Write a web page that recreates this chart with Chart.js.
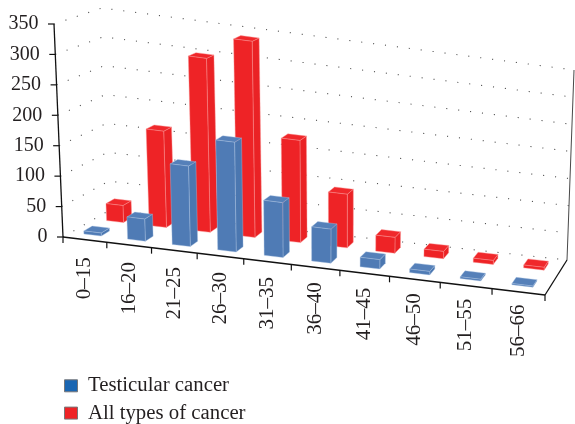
<!DOCTYPE html>
<html><head><meta charset="utf-8">
<style>html,body{margin:0;padding:0;background:#fff;overflow:hidden}canvas{display:block}</style>
<script src="https://cdn.jsdelivr.net/npm/chart.js@4"></script>
</head><body><canvas id="c" width="575" height="424"></canvas>
<script>
const categories = ['0–15','16–20','21–25','26–30','31–35','36–40','41–45','46–50','51–55','56–66'];
const testicular = [5,37,135,185,93,58,16,6,3,2];
const allTypes = [29,165,300,340,178,94,28,13,7,5];
const yTicks = [0,50,100,150,200,250,300,350];

// corners of the drawn box: C[v][w][u]
const C=[[[[63,237],[545,295]],[[110,210],[567,260]]],
         [[[54,24],[553,92]],[[102,8],[574,70]]]];
const alpha=0.9;
function P(u,v,w){
  const a=alpha*u/(1+u*(alpha-1));
  const out=[0,0];
  for(let k=0;k<2;k++){
    const l=(p,q,t)=>p+(q-p)*t;
    const bot=l(l(C[0][0][0][k],C[0][0][1][k],a),l(C[0][1][0][k],C[0][1][1][k],a),w);
    const top=l(l(C[1][0][0][k],C[1][0][1][k],a),l(C[1][1][0][k],C[1][1][1][k],a),w);
    out[k]=l(bot,top,v);
  }
  return out;
}
const FONT='"Liberation Serif", serif';
const depth=[[0.17,0.35],[0.66,0.84]];
const faces=[{front:'#4f7bb5',side:'#4b77b0',top:'#5580b9',edge:'rgba(170,195,225,0.55)'},
             {front:'#ee2326',side:'#ea2225',top:'#f0282b',edge:'rgba(250,150,150,0.6)'}];
function poly(ctx,pts,fill,edge){
  ctx.beginPath();pts.forEach((p,i)=>i?ctx.lineTo(p[0],p[1]):ctx.moveTo(p[0],p[1]));ctx.closePath();
  ctx.fillStyle=fill;ctx.fill();
  if(edge){ctx.strokeStyle=edge;ctx.lineWidth=0.7;ctx.stroke();}
}
function line(ctx,a,b){ctx.beginPath();ctx.moveTo(a[0],a[1]);ctx.lineTo(b[0],b[1]);ctx.stroke();}
const box3d={
  id:'box3d',
  beforeDatasetsDraw(chart){
    const ctx=chart.ctx,A=chart.chartArea,sx=chart.scales.x,sy=chart.scales.y;
    const N=categories.length;
    const nu=p=>(p-A.left)/(A.right-A.left), nv=p=>(A.bottom-p)/(A.bottom-A.top);
    ctx.save();
    ctx.strokeStyle='#555';ctx.lineWidth=1.1;ctx.setLineDash([1.1,10.9]);
    sy.ticks.forEach(t=>{
      const v=nv(sy.getPixelForValue(t.value));
      ctx.beginPath();
      let a=P(0,v,0),b=P(0,v,1),c=P(1,v,1);
      ctx.moveTo(a[0],a[1]);ctx.lineTo(b[0],b[1]);ctx.lineTo(c[0],c[1]);ctx.stroke();
    });
    ctx.setLineDash([]);
    [1,0].forEach(di=>{
      const meta=chart.getDatasetMeta(di),f=faces[di],[w0,w1]=depth[di];
      meta.data.forEach(el=>{
        const u0=nu(el.x-el.width/2),u1=nu(el.x+el.width/2),v0=nv(el.base),v1=nv(el.y);
        poly(ctx,[P(u1,v0,w0),P(u1,v0,w1),P(u1,v1,w1),P(u1,v1,w0)],f.side,f.edge);
        poly(ctx,[P(u0,v1,w0),P(u1,v1,w0),P(u1,v1,w1),P(u0,v1,w1)],f.top,f.edge);
        poly(ctx,[P(u0,v0,w0),P(u1,v0,w0),P(u1,v1,w0),P(u0,v1,w0)],f.front,f.edge);
      });
    });
    ctx.strokeStyle='#111';ctx.lineWidth=1.3;
    line(ctx,P(0,1,0),P(0,0,0));line(ctx,P(0,0,0),P(1,0,0));line(ctx,P(1,0,0),P(1,0,1));
    ctx.lineWidth=0.9;ctx.strokeStyle='#333';line(ctx,P(1,0,1),P(1,1,1));
    ctx.strokeStyle='#111';ctx.lineWidth=1.2;
    ctx.fillStyle='#231f20';ctx.font='20px '+FONT;
    ctx.textAlign='right';ctx.textBaseline='middle';
    sy.ticks.forEach(t=>{
      const p=P(0,nv(sy.getPixelForValue(t.value)),0);
      line(ctx,[p[0]-6,p[1]],p);
      ctx.fillText(String(t.value),p[0]-15.5,p[1]);
    });
    for(let i=0;i<=N;i++){const p=P(i/N,0,0);line(ctx,p,[p[0],p[1]+6]);}
    ctx.font='21px '+FONT;
    categories.forEach((c,i)=>{
      const u=nu(sx.getPixelForValue(i)),p=P(u,0,0);
      ctx.save();ctx.translate(p[0],p[1]+18-5.5*u);ctx.rotate(-Math.PI/2);
      ctx.textAlign='right';ctx.textBaseline='middle';ctx.fillText(c,0,0);ctx.restore();
    });
    ctx.restore();
    return false;
  }
};
new Chart(document.getElementById('c'),{
  type:'bar',
  data:{labels:categories,datasets:[
    {label:'Testicular cancer',data:testicular,backgroundColor:'#1a66b2',borderColor:'#77777a',borderWidth:1},
    {label:'All types of cancer',data:allTypes,backgroundColor:'#ee2326',borderColor:'#77777a',borderWidth:1}
  ]},
  plugins:[box3d],
  options:{
    responsive:false,animation:false,
    layout:{padding:{left:58,right:0,top:0,bottom:-6}},
    datasets:{bar:{grouped:false,barPercentage:0.40,categoryPercentage:1}},
    scales:{
      x:{type:'category',display:false,offset:true},
      y:{type:'linear',display:false,min:0,max:yTicks[yTicks.length-1],ticks:{stepSize:50}}
    },
    plugins:{
      tooltip:{enabled:false},
      legend:{position:'left',align:'end',
        labels:{boxWidth:13,boxHeight:12,padding:6.5,color:'#231f20',font:{family:'"Liberation Serif", serif',size:20.8}}}
    }
  }
});
</script></body></html>
